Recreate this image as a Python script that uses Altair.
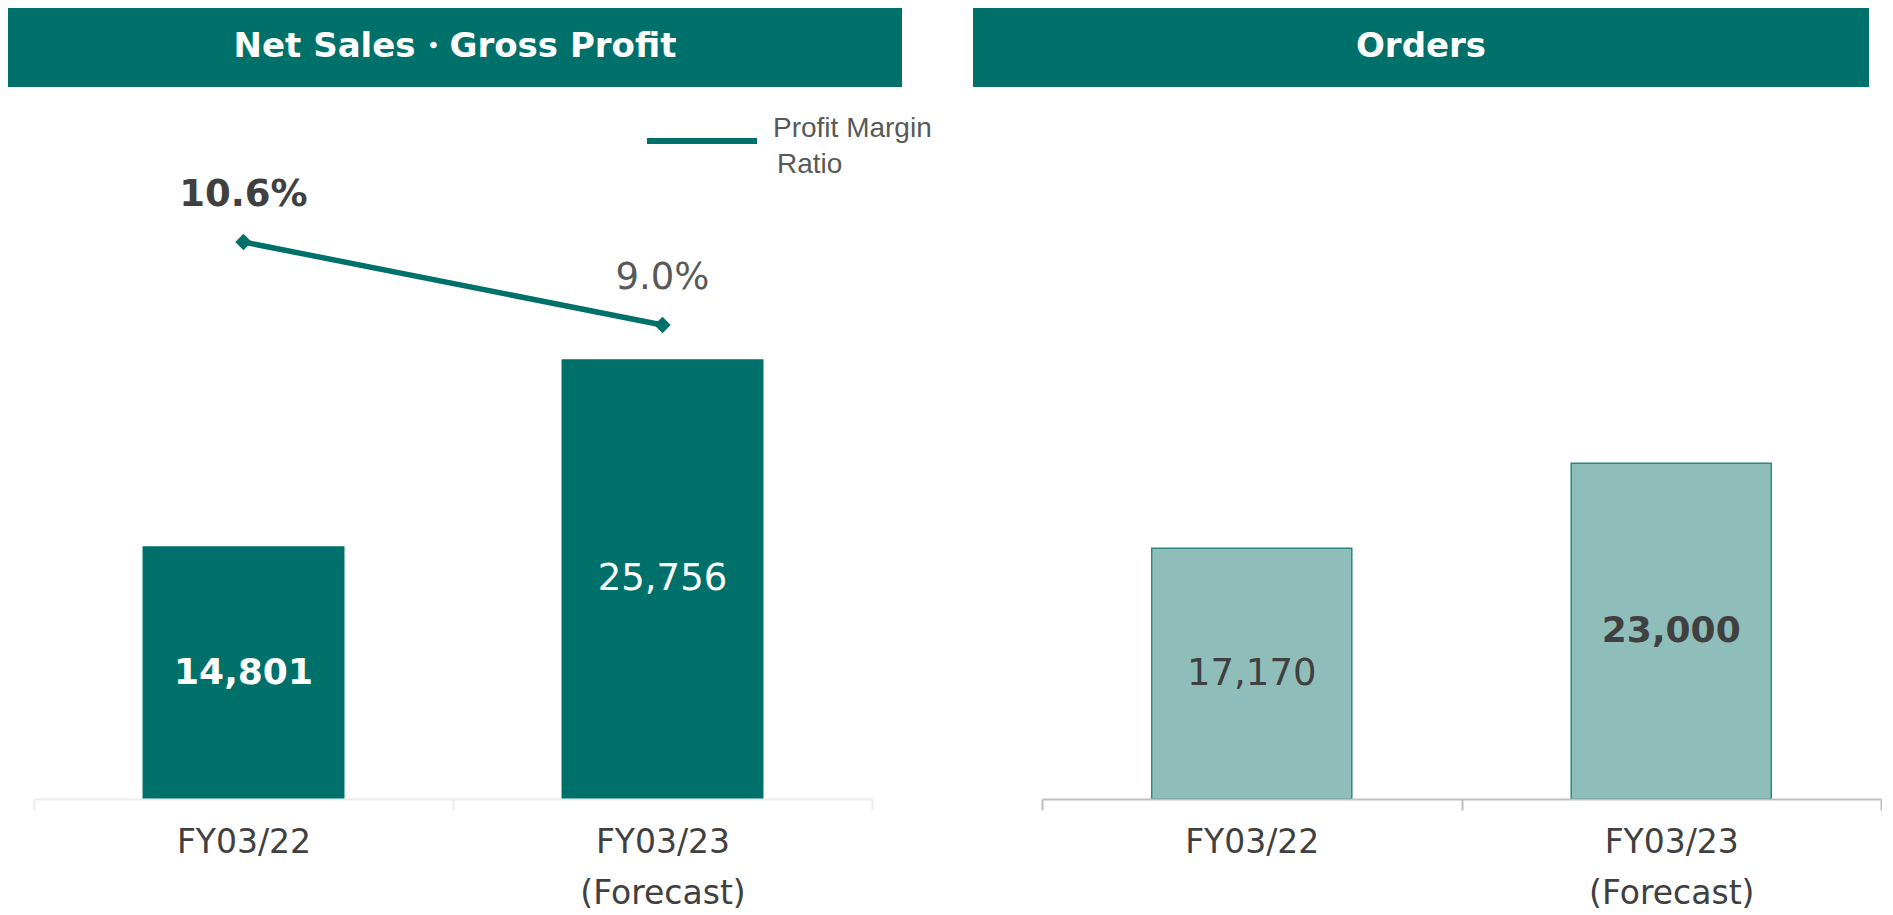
import altair as alt
import pandas as pd

# ---- data ----
periods = ["FY03/22", "FY03/23 (Forecast)"]
net_sales = [14801, 25756]
profit_margin = [10.6, 9.0]
orders = [17170, 23000]

left_title = "Net Sales\u30fbGross Profit"
right_title = "Orders"
legend_lines = ["Profit Margin", "Ratio"]

# ---- style ----
TEAL = "#00716a"
LIGHT = "#8fbeba"
LIGHT_STROKE = "#2a8a80"
GRAY = "#404040"
FONT = "DejaVu Sans"
W1, W2, H = 894, 908, 791
HEAD_H = 79

sales_df = pd.DataFrame({"period": periods, "sales": net_sales, "margin": profit_margin})
orders_df = pd.DataFrame({"period": periods, "orders": orders})
one = pd.DataFrame({"k": [0]})


def x_enc(rng, dom_color):
    return alt.X(
        "period:N", sort=periods, title=None,
        scale=alt.Scale(range=rng, paddingInner=0, paddingOuter=0),
        axis=alt.Axis(
            labelExpr="split(datum.label, ' ')", labelAngle=0, labelFont=FONT,
            labelFontSize=33, labelColor=GRAY, labelLineHeight=51, labelPadding=16,
            tickSize=11, tickBand="extent", domainColor=dom_color, tickColor=dom_color,
            domainWidth=2, tickWidth=2, zindex=1, labelBaseline="top",
        ),
    )


def header(title, w):
    rect = alt.Chart(one).mark_rect(color=TEAL).encode(
        x=alt.value(0), x2=alt.value(w), y=alt.value(0), y2=alt.value(HEAD_H)
    )
    txt = alt.Chart(one).mark_text(
        text=title, font=FONT, fontSize=34, fontWeight="bold", color="white",
        align="center", baseline="middle",
    ).encode(x=alt.value(w / 2), y=alt.value(HEAD_H / 2 - 1))
    return rect + txt


# ---- left panel ----
xl = x_enc([26, 864], "#ebebeb")
ys = alt.Scale(domain=[0, 46340], nice=False, zero=True)
ym = alt.Scale(domain=[-0.137, 15.111], nice=False, zero=False)

base_l = alt.Chart(sales_df)
bars_l = base_l.mark_bar(color=TEAL, width=alt.RelativeBandSize(0.482)).encode(
    x=xl, y=alt.Y("sales:Q", scale=ys, axis=None)
)
lab_l_b = base_l.transform_calculate(half="datum.sales/2").transform_filter(
    alt.datum.period == periods[0]
).mark_text(font=FONT, fontSize=36, fontWeight="bold", color="white", baseline="middle").encode(
    x=xl, y=alt.Y("half:Q", scale=ys, axis=None), text=alt.Text("sales:Q", format=",")
)
lab_l_n = base_l.transform_calculate(half="datum.sales/2").transform_filter(
    alt.datum.period == periods[1]
).mark_text(font=FONT, fontSize=37, color="white", baseline="middle").encode(
    x=xl, y=alt.Y("half:Q", scale=ys, axis=None), text=alt.Text("sales:Q", format=",")
)
line = base_l.mark_line(color=TEAL, strokeWidth=5.5).encode(
    x=xl, y=alt.Y("margin:Q", scale=ym, axis=None)
)
pts = base_l.mark_point(shape="diamond", filled=True, size=270, color=TEAL, opacity=1).encode(
    x=xl, y=alt.Y("margin:Q", scale=ym, axis=None)
)
mlab = base_l.transform_calculate(t="format(datum.margin, '.1f') + '%'")
mlab_b = mlab.transform_filter(alt.datum.period == periods[0]).mark_text(
    font=FONT, fontSize=37, fontWeight="bold", color=GRAY, dy=-47, baseline="middle"
).encode(x=xl, y=alt.Y("margin:Q", scale=ym, axis=None), text="t:N")
mlab_n = mlab.transform_filter(alt.datum.period == periods[1]).mark_text(
    font=FONT, fontSize=37, color="#595959", dy=-47, baseline="middle"
).encode(x=xl, y=alt.Y("margin:Q", scale=ym, axis=None), text="t:N")

leg_rule = alt.Chart(one).mark_rule(color=TEAL, strokeWidth=6, strokeCap="butt").encode(
    x=alt.value(639), x2=alt.value(749), y=alt.value(133)
)
leg_t1 = alt.Chart(one).mark_text(
    text=legend_lines[0], font="Liberation Sans", fontSize=28, color="#595959",
    align="left", baseline="middle",
).encode(x=alt.value(765), y=alt.value(121))
leg_t2 = alt.Chart(one).mark_text(
    text=legend_lines[1], font="Liberation Sans", fontSize=28, color="#595959",
    align="left", baseline="middle",
).encode(x=alt.value(769), y=alt.value(157))

left = alt.layer(
    header(left_title, W1), bars_l, lab_l_b, lab_l_n, line, pts, mlab_b, mlab_n,
    leg_rule, leg_t1, leg_t2,
).resolve_scale(y="independent").properties(width=W1, height=H)

# ---- right panel ----
xr = x_enc([69, 908], "#bfbfbf")
yo = alt.Scale(domain=[0, 54178], nice=False, zero=True)
base_r = alt.Chart(orders_df)
bars_r = base_r.mark_bar(
    color=LIGHT, stroke=LIGHT_STROKE, strokeWidth=1.5, width=alt.RelativeBandSize(0.477)
).encode(x=xr, y=alt.Y("orders:Q", scale=yo, axis=None))
lab_r_n = base_r.transform_calculate(half="datum.orders/2").transform_filter(
    alt.datum.period == periods[0]
).mark_text(font=FONT, fontSize=37, color=GRAY, baseline="middle").encode(
    x=xr, y=alt.Y("half:Q", scale=yo, axis=None), text=alt.Text("orders:Q", format=",")
)
lab_r_b = base_r.transform_calculate(half="datum.orders/2").transform_filter(
    alt.datum.period == periods[1]
).mark_text(font=FONT, fontSize=36, fontWeight="bold", color=GRAY, baseline="middle").encode(
    x=xr, y=alt.Y("half:Q", scale=yo, axis=None), text=alt.Text("orders:Q", format=",")
)
right = alt.layer(header(right_title, 896), bars_r, lab_r_n, lab_r_b).properties(
    width=W2, height=H
)

chart = (
    alt.hconcat(left, right, spacing=71, bounds="flush")
    .properties(padding=0)
    .configure_view(stroke=None)
)
chart.save("out.html", embed_options={"renderer": "svg", "actions": False})
